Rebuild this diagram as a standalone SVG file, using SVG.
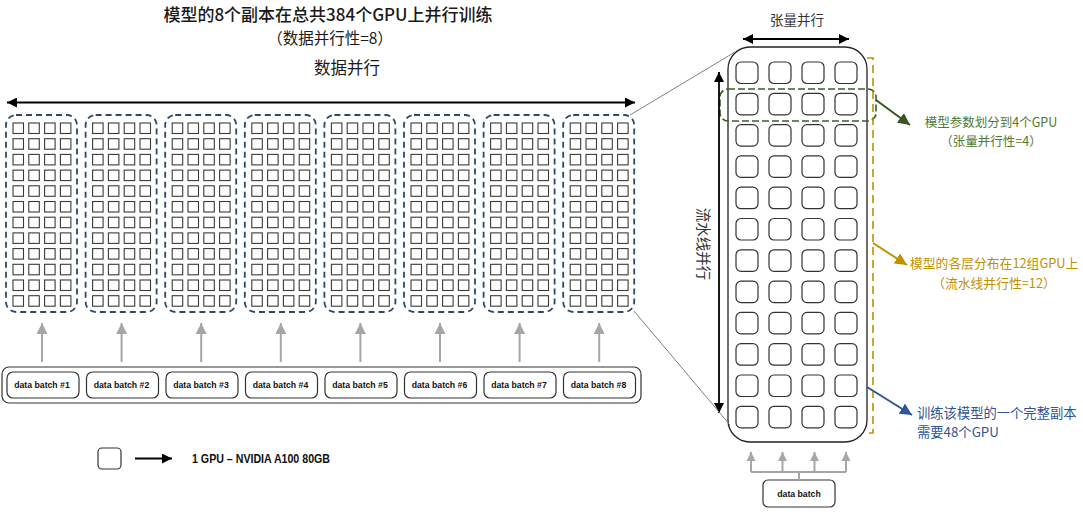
<svg xmlns="http://www.w3.org/2000/svg" xmlns:xlink="http://www.w3.org/1999/xlink" width="1083" height="514" viewBox="0 0 1083 514">
<style>
.cjk{font-family:"Noto Sans CJK SC","Noto Sans",sans-serif}
.lat{font-family:"Liberation Sans",Arial,sans-serif;font-weight:bold}
.cell{fill:#fff;stroke:#3a3a3a;stroke-width:1.1}
.rcell{fill:#fff;stroke:#333;stroke-width:1.2}
.grp{fill:none;stroke:#2b4a6b;stroke-width:1.8;stroke-dasharray:6 4}
.batch{fill:#fff;stroke:#333;stroke-width:1.2}
.garrow{stroke:#a6a6a6;stroke-width:2;fill:none}
.blk{stroke:#000;stroke-width:1.8;fill:none}
.thin{stroke:#808080;stroke-width:1;fill:none}
</style>
<defs>
<marker id="ah" viewBox="0 0 10 10" refX="10" refY="5" markerWidth="10" markerHeight="10" markerUnits="userSpaceOnUse" orient="auto-start-reverse"><path d="M0,0 L10,5 L0,10 z" fill="#000"/></marker>
<marker id="ahg" viewBox="0 0 10 10" refX="10" refY="5" markerWidth="11" markerHeight="12" markerUnits="userSpaceOnUse" orient="auto"><path d="M0,0 L10,5 L0,10 z" fill="#a6a6a6"/></marker>
<marker id="ahgs" viewBox="0 0 10 10" refX="10" refY="5" markerWidth="9" markerHeight="10" markerUnits="userSpaceOnUse" orient="auto"><path d="M0,0 L10,5 L0,10 z" fill="#a6a6a6"/></marker>
<marker id="ahgreen" viewBox="0 0 10 10" refX="10" refY="5" markerWidth="12" markerHeight="12" markerUnits="userSpaceOnUse" orient="auto"><path d="M0,0 L10,5 L0,10 z" fill="#375623"/></marker>
<marker id="ahgold" viewBox="0 0 10 10" refX="10" refY="5" markerWidth="12" markerHeight="12" markerUnits="userSpaceOnUse" orient="auto"><path d="M0,0 L10,5 L0,10 z" fill="#bf9000"/></marker>
<marker id="ahblue" viewBox="0 0 10 10" refX="10" refY="5" markerWidth="12" markerHeight="12" markerUnits="userSpaceOnUse" orient="auto"><path d="M0,0 L10,5 L0,10 z" fill="#2f5597"/></marker>
<g id="row4">
<rect class="cell" x="0" y="0" width="10.5" height="10.5"/>
<rect class="cell" x="15.8" y="0" width="10.5" height="10.5"/>
<rect class="cell" x="31.6" y="0" width="10.5" height="10.5"/>
<rect class="cell" x="47.4" y="0" width="10.5" height="10.5"/>
</g>
<g id="grid48">
<use xlink:href="#row4" y="0"/><use xlink:href="#row4" y="15.7"/><use xlink:href="#row4" y="31.4"/><use xlink:href="#row4" y="47.1"/>
<use xlink:href="#row4" y="62.8"/><use xlink:href="#row4" y="78.5"/><use xlink:href="#row4" y="94.2"/><use xlink:href="#row4" y="109.9"/>
<use xlink:href="#row4" y="125.6"/><use xlink:href="#row4" y="141.3"/><use xlink:href="#row4" y="157"/><use xlink:href="#row4" y="172.7"/>
</g>
<g id="rrow">
<rect class="rcell" x="0" y="0" width="22" height="21.5" rx="5"/>
<rect class="rcell" x="33" y="0" width="22" height="21.5" rx="5"/>
<rect class="rcell" x="66" y="0" width="22" height="21.5" rx="5"/>
<rect class="rcell" x="99" y="0" width="22" height="21.5" rx="5"/>
</g>
</defs>
<rect width="1083" height="514" fill="#fff"/>

<!-- titles -->
<g id="titles" class="cjk" fill="#1a1a1a" text-anchor="middle">
<text x="328" y="21" font-size="17" font-weight="500">模型的8个副本在总共384个GPU上并行训练</text>
<text x="330" y="44" font-size="15.5">（数据并行性=8）</text>
<text x="347" y="74" font-size="16.5">数据并行</text>
</g>

<!-- replicas -->
<g id="replica-1"><rect class="grp" x="6" y="115" width="71" height="197" rx="10"/><use xlink:href="#grid48" x="13" y="123"/></g>
<g id="replica-2"><rect class="grp" x="85.6" y="115" width="71" height="197" rx="10"/><use xlink:href="#grid48" x="92.6" y="123"/></g>
<g id="replica-3"><rect class="grp" x="165.2" y="115" width="71" height="197" rx="10"/><use xlink:href="#grid48" x="172.2" y="123"/></g>
<g id="replica-4"><rect class="grp" x="244.8" y="115" width="71" height="197" rx="10"/><use xlink:href="#grid48" x="251.8" y="123"/></g>
<g id="replica-5"><rect class="grp" x="324.4" y="115" width="71" height="197" rx="10"/><use xlink:href="#grid48" x="331.4" y="123"/></g>
<g id="replica-6"><rect class="grp" x="404" y="115" width="71" height="197" rx="10"/><use xlink:href="#grid48" x="411" y="123"/></g>
<g id="replica-7"><rect class="grp" x="483.6" y="115" width="71" height="197" rx="10"/><use xlink:href="#grid48" x="490.6" y="123"/></g>
<g id="replica-8"><rect class="grp" x="563.2" y="115" width="71" height="197" rx="10"/><use xlink:href="#grid48" x="570.2" y="123"/></g>

<!-- data batches -->
<g id="batches">
<rect x="2" y="367" width="639" height="36" rx="7" fill="#fff" stroke="#333" stroke-width="1.2"/>
<g class="lat" font-size="8.7" text-anchor="middle" fill="#111">
<rect class="batch" x="7" y="372" width="72" height="26" rx="6"/><text x="42" y="388">data batch #1</text>
<rect class="batch" x="86.5" y="372" width="72" height="26" rx="6"/><text x="121.5" y="388">data batch #2</text>
<rect class="batch" x="166" y="372" width="72" height="26" rx="6"/><text x="201" y="388">data batch #3</text>
<rect class="batch" x="245.5" y="372" width="72" height="26" rx="6"/><text x="280.5" y="388">data batch #4</text>
<rect class="batch" x="325" y="372" width="72" height="26" rx="6"/><text x="360" y="388">data batch #5</text>
<rect class="batch" x="404.5" y="372" width="72" height="26" rx="6"/><text x="439.5" y="388">data batch #6</text>
<rect class="batch" x="484" y="372" width="72" height="26" rx="6"/><text x="519" y="388">data batch #7</text>
<rect class="batch" x="563.5" y="372" width="72" height="26" rx="6"/><text x="598.5" y="388">data batch #8</text>
</g>
</g>

<!-- right replica detail -->
<g id="replica-detail">
<rect x="728" y="47" width="139" height="395" rx="22" fill="#fff" stroke="#222" stroke-width="1.3"/>
<use xlink:href="#rrow" x="736" y="62"/><use xlink:href="#rrow" x="736" y="93.3"/><use xlink:href="#rrow" x="736" y="124.6"/><use xlink:href="#rrow" x="736" y="155.9"/>
<use xlink:href="#rrow" x="736" y="187.2"/><use xlink:href="#rrow" x="736" y="218.5"/><use xlink:href="#rrow" x="736" y="249.8"/><use xlink:href="#rrow" x="736" y="281.1"/>
<use xlink:href="#rrow" x="736" y="312.4"/><use xlink:href="#rrow" x="736" y="343.7"/><use xlink:href="#rrow" x="736" y="375"/><use xlink:href="#rrow" x="736" y="406.3"/>
</g>

<g id="tensor-group"><rect x="720" y="89" width="156" height="32" rx="8" fill="none" stroke="#3e5e26" stroke-width="1.6" stroke-dasharray="7 3"/></g>
<g id="pipeline-group"><path d="M867,58 H873 V433 H867" fill="none" stroke="#bf9000" stroke-width="1.6" stroke-dasharray="8 5"/></g>

<g id="labels-right" class="cjk" font-size="13">
<text x="797" y="25" font-size="13.5" fill="#333" text-anchor="middle">张量并行</text>
<text x="704" y="244" font-size="14.5" fill="#333" text-anchor="middle" dominant-baseline="central" transform="rotate(90 704 244)">流水线并行</text>
<g fill="#4e7a32" text-anchor="middle" font-size="12.5">
<text x="991" y="126.5">模型参数划分到4个GPU</text>
<text x="991" y="145.5">（张量并行性=4）</text>
</g>
<g fill="#bf9000" font-size="12.8">
<text x="910" y="267.5">模型的各层分布在12组GPU上</text>
<text x="994" y="287.5" text-anchor="middle">（流水线并行性=12）</text>
</g>
<g fill="#2f5597" font-size="13.3">
<text x="917" y="417.5">训练该模型的一个完整副本</text>
<text x="917" y="436.5">需要48个GPU</text>
</g>
</g>

<g id="data-batch-single">
<rect class="batch" x="763" y="480" width="72" height="27" rx="5"/>
<text class="lat" x="799" y="497" font-size="8.7" text-anchor="middle" fill="#111">data batch</text>
</g>

<!-- legend -->
<g id="legend">
<rect x="98" y="448" width="23" height="21" rx="4" fill="#fff" stroke="#333" stroke-width="1.2"/>
<line class="blk" x1="135" y1="458.5" x2="172" y2="458.5" marker-end="url(#ah)"/>
<text class="lat" x="192" y="463" font-size="12" fill="#111" textLength="138" lengthAdjust="spacingAndGlyphs">1 GPU – NVIDIA A100  80GB</text>
</g>

<!-- connectors -->
<g id="connectors">
<line class="blk" x1="7" y1="102.5" x2="635" y2="102.5" marker-start="url(#ah)" marker-end="url(#ah)"/>
<line class="blk" x1="743" y1="39" x2="849" y2="39" marker-start="url(#ah)" marker-end="url(#ah)"/>
<line class="blk" x1="719" y1="72" x2="719" y2="413" marker-start="url(#ah)" marker-end="url(#ah)"/>
<line class="thin" x1="630" y1="115" x2="735" y2="52"/>
<line class="thin" x1="634" y1="311" x2="730" y2="425"/>
<line class="garrow" x1="42" y1="362" x2="42" y2="323" marker-end="url(#ahg)"/>
<line class="garrow" x1="121.6" y1="362" x2="121.6" y2="323" marker-end="url(#ahg)"/>
<line class="garrow" x1="201.2" y1="362" x2="201.2" y2="323" marker-end="url(#ahg)"/>
<line class="garrow" x1="280.8" y1="362" x2="280.8" y2="323" marker-end="url(#ahg)"/>
<line class="garrow" x1="360.4" y1="362" x2="360.4" y2="323" marker-end="url(#ahg)"/>
<line class="garrow" x1="440" y1="362" x2="440" y2="323" marker-end="url(#ahg)"/>
<line class="garrow" x1="519.6" y1="362" x2="519.6" y2="323" marker-end="url(#ahg)"/>
<line class="garrow" x1="599.2" y1="362" x2="599.2" y2="323" marker-end="url(#ahg)"/>
<path class="garrow" d="M799,480 V472 M751,472 H846" stroke-width="1.5"/>
<line class="garrow" stroke-width="1.5" x1="751" y1="472" x2="751" y2="452" marker-end="url(#ahgs)"/>
<line class="garrow" stroke-width="1.5" x1="782.5" y1="472" x2="782.5" y2="452" marker-end="url(#ahgs)"/>
<line class="garrow" stroke-width="1.5" x1="814.5" y1="472" x2="814.5" y2="452" marker-end="url(#ahgs)"/>
<line class="garrow" stroke-width="1.5" x1="846" y1="472" x2="846" y2="452" marker-end="url(#ahgs)"/>
<line x1="876" y1="100" x2="910" y2="125" stroke="#375623" stroke-width="2" marker-end="url(#ahgreen)"/>
<line x1="873" y1="243" x2="907" y2="265" stroke="#bf9000" stroke-width="2" marker-end="url(#ahgold)"/>
<line x1="867" y1="387" x2="912" y2="415" stroke="#2f5597" stroke-width="2" marker-end="url(#ahblue)"/>
</g>
</svg>
